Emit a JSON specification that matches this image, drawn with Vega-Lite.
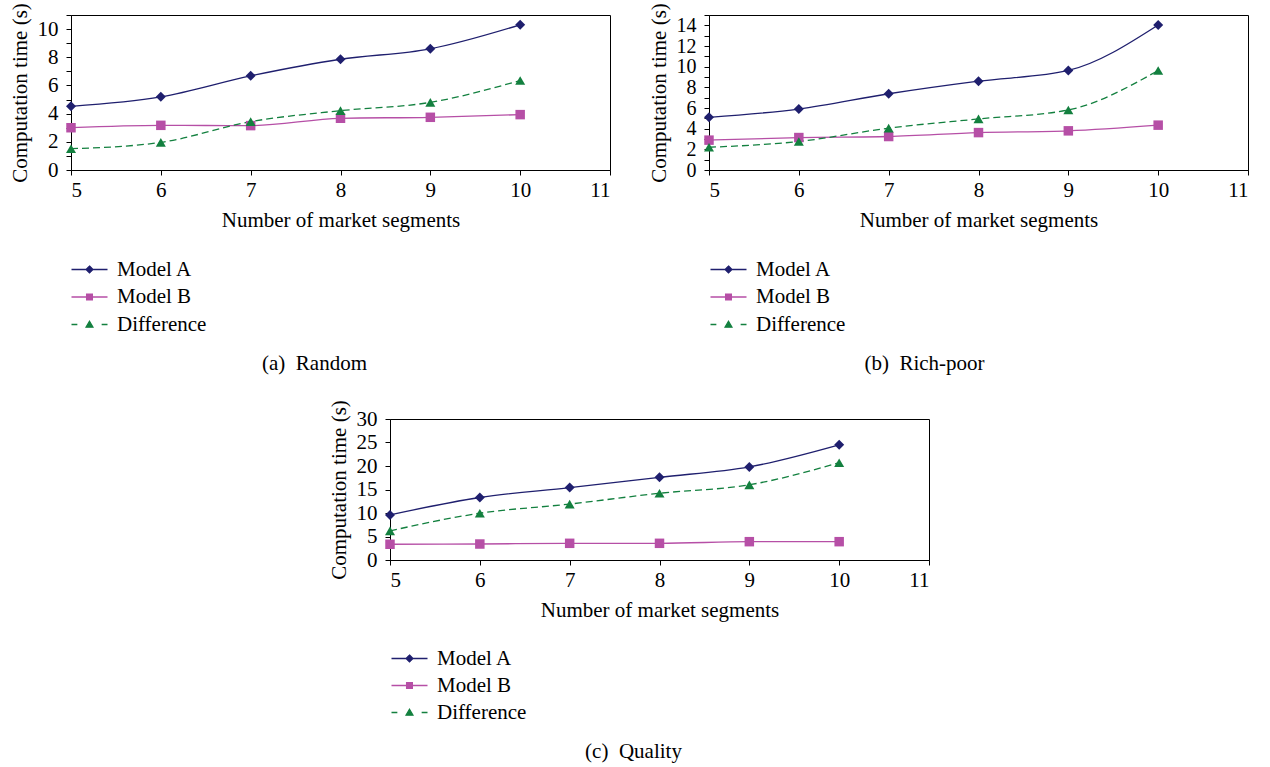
{
  "$schema": "https://vega.github.io/schema/vega-lite/v6.json",
  "padding": {"left": 8, "top": 2, "right": 5, "bottom": 5},
  "background": "white",
  "config": {
    "font": "Liberation Serif",
    "view": {"stroke": "black", "strokeWidth": 1},
    "axis": {
      "grid": false, "domainColor": "black", "tickColor": "black", "labelColor": "black", "titleColor": "black",
      "labelFont": "Liberation Serif", "titleFont": "Liberation Serif", "labelFontSize": 21, "titleFontSize": 21,
      "titleFontWeight": "normal", "tickSize": 5, "domainWidth": 1, "tickWidth": 1, "labelOverlap": false
    },
    "axisX": {"labelPadding": 4, "titlePadding": 9},
    "axisY": {"labelPadding": 8, "titlePadding": 7},
    "title": {"font": "Liberation Serif", "fontSize": 21, "fontWeight": "normal", "color": "black"},
    "legend": {"labelFont": "Liberation Serif", "labelFontSize": 21, "labelColor": "black"}
  },
  "datasets": {
    "a": [
      {"n": 5, "series": "Model A", "t": 4.52}, {"n": 6, "series": "Model A", "t": 5.19}, {"n": 7, "series": "Model A", "t": 6.68},
      {"n": 8, "series": "Model A", "t": 7.86}, {"n": 9, "series": "Model A", "t": 8.6}, {"n": 10, "series": "Model A", "t": 10.3},
      {"n": 5, "series": "Model B", "t": 3.0}, {"n": 6, "series": "Model B", "t": 3.17}, {"n": 7, "series": "Model B", "t": 3.15},
      {"n": 8, "series": "Model B", "t": 3.67}, {"n": 9, "series": "Model B", "t": 3.74}, {"n": 10, "series": "Model B", "t": 3.93},
      {"n": 5, "series": "Difference", "t": 1.51}, {"n": 6, "series": "Difference", "t": 1.96}, {"n": 7, "series": "Difference", "t": 3.43},
      {"n": 8, "series": "Difference", "t": 4.21}, {"n": 9, "series": "Difference", "t": 4.8}, {"n": 10, "series": "Difference", "t": 6.35}
    ],
    "b": [
      {"n": 5, "series": "Model A", "t": 5.1}, {"n": 6, "series": "Model A", "t": 5.9}, {"n": 7, "series": "Model A", "t": 7.38},
      {"n": 8, "series": "Model A", "t": 8.6}, {"n": 9, "series": "Model A", "t": 9.63}, {"n": 10, "series": "Model A", "t": 14.03},
      {"n": 5, "series": "Model B", "t": 2.89}, {"n": 6, "series": "Model B", "t": 3.14}, {"n": 7, "series": "Model B", "t": 3.24},
      {"n": 8, "series": "Model B", "t": 3.62}, {"n": 9, "series": "Model B", "t": 3.79}, {"n": 10, "series": "Model B", "t": 4.34},
      {"n": 5, "series": "Difference", "t": 2.2}, {"n": 6, "series": "Difference", "t": 2.76}, {"n": 7, "series": "Difference", "t": 4.05},
      {"n": 8, "series": "Difference", "t": 4.94}, {"n": 9, "series": "Difference", "t": 5.81}, {"n": 10, "series": "Difference", "t": 9.63}
    ],
    "c": [
      {"n": 5, "series": "Model A", "t": 9.6}, {"n": 6, "series": "Model A", "t": 13.3}, {"n": 7, "series": "Model A", "t": 15.4},
      {"n": 8, "series": "Model A", "t": 17.6}, {"n": 9, "series": "Model A", "t": 19.8}, {"n": 10, "series": "Model A", "t": 24.5},
      {"n": 5, "series": "Model B", "t": 3.35}, {"n": 6, "series": "Model B", "t": 3.4}, {"n": 7, "series": "Model B", "t": 3.55},
      {"n": 8, "series": "Model B", "t": 3.55}, {"n": 9, "series": "Model B", "t": 3.9}, {"n": 10, "series": "Model B", "t": 3.9},
      {"n": 5, "series": "Difference", "t": 6.2}, {"n": 6, "series": "Difference", "t": 9.95}, {"n": 7, "series": "Difference", "t": 11.9},
      {"n": 8, "series": "Difference", "t": 14.2}, {"n": 9, "series": "Difference", "t": 16.0}, {"n": 10, "series": "Difference", "t": 20.7}
    ]
  },
  "vconcat": [
    {
      "hconcat": [
        {
          "width": 539, "height": 155,
          "data": {"name": "a"},
          "title": {"text": "(a)\u00a0 Random", "orient": "bottom", "offset": 18, "dx": -26, "anchor": "middle"},
          "encoding": {
            "x": {"field": "n", "type": "quantitative", "scale": {"domain": [5, 11], "nice": false, "zero": false},
                  "axis": {"values": [5, 6, 7, 8, 9, 10, 11], "title": "Number of market segments"}},
            "color": {"field": "series", "type": "nominal",
                      "scale": {"domain": ["Model A", "Model B", "Difference"], "range": ["#1f1f6e", "#b64fa6", "#13803f"]},
                      "legend": {"orient": "none", "legendX": 8, "legendY": 244, "title": null, "padding": 0,
                                 "symbolSize": 324, "labelOffset": 17, "rowPadding": 5.5,
                                 "encode": {"symbols": {"update": {
                                   "shape": {"signal": "datum.value === 'Model A' ? 'M-2,0H2M0,-0.38L0.38,0L0,0.38L-0.38,0Z' : datum.value === 'Model B' ? 'M-2,0H2M-0.32,-0.32H0.32V0.32H-0.32Z' : 'M-2,0H-1.35M1.35,0H2M0,-0.36L0.38,0.3H-0.38Z'"},
                                   "fill": {"signal": "datum.value === 'Model A' ? '#1f1f6e' : datum.value === 'Model B' ? '#b64fa6' : '#13803f'"},
                                   "stroke": {"signal": "datum.value === 'Model A' ? '#1f1f6e' : datum.value === 'Model B' ? '#b64fa6' : '#13803f'"},
                                   "strokeWidth": {"value": 1.3}, "opacity": {"value": 1}
                                 }}}}}
          },
          "layer": [
            {"transform": [{"filter": "datum.series !== 'Difference'"}], "mark": {"type": "line", "interpolate": "monotone", "strokeWidth": 1.3},
             "encoding": {"y": {"field": "t", "type": "quantitative", "scale": {"domain": [0, 11], "nice": false},
                                "axis": {"values": [0, 2, 4, 6, 8, 10], "title": "Computation time (s)"}}}},
            {"transform": [{"filter": "datum.series === 'Difference'"}], "mark": {"type": "line", "interpolate": "monotone", "strokeWidth": 1.3, "strokeDash": [7, 4]},
             "encoding": {"y": {"field": "t", "type": "quantitative", "scale": {"domain": [0, 11], "nice": false}, "axis": null}}},
            {"transform": [{"filter": "datum.series === 'Model A'"}], "mark": {"type": "point", "shape": "diamond", "filled": true, "opacity": 1, "size": 100},
             "encoding": {"y": {"field": "t", "type": "quantitative", "scale": {"domain": [0, 11], "nice": false}, "axis": null}}},
            {"transform": [{"filter": "datum.series === 'Model B'"}], "mark": {"type": "point", "shape": "square", "filled": true, "opacity": 1, "size": 90},
             "encoding": {"y": {"field": "t", "type": "quantitative", "scale": {"domain": [0, 11], "nice": false}, "axis": null}}},
            {"transform": [{"filter": "datum.series === 'Difference'"}], "mark": {"type": "point", "shape": "triangle-up", "filled": true, "opacity": 1, "size": 100},
             "encoding": {"y": {"field": "t", "type": "quantitative", "scale": {"domain": [0, 11], "nice": false},
                                "axis": {"orient": "left", "values": [1, 3, 5, 7, 9, 11], "labels": false, "domain": false, "title": null}}}}
          ],
          "resolve": {"axis": {"y": "independent"}}
        },
        {
          "width": 539, "height": 155,
          "data": {"name": "b"},
          "title": {"text": "(b)\u00a0 Rich-poor", "orient": "bottom", "offset": 18, "dx": -54, "anchor": "middle"},
          "encoding": {
            "x": {"field": "n", "type": "quantitative", "scale": {"domain": [5, 11], "nice": false, "zero": false},
                  "axis": {"values": [5, 6, 7, 8, 9, 10, 11], "title": "Number of market segments"}},
            "color": {"field": "series", "type": "nominal",
                      "scale": {"domain": ["Model A", "Model B", "Difference"], "range": ["#1f1f6e", "#b64fa6", "#13803f"]},
                      "legend": {"orient": "none", "legendX": 9, "legendY": 244, "title": null, "padding": 0,
                                 "symbolSize": 324, "labelOffset": 17, "rowPadding": 5.5,
                                 "encode": {"symbols": {"update": {
                                   "shape": {"signal": "datum.value === 'Model A' ? 'M-2,0H2M0,-0.38L0.38,0L0,0.38L-0.38,0Z' : datum.value === 'Model B' ? 'M-2,0H2M-0.32,-0.32H0.32V0.32H-0.32Z' : 'M-2,0H-1.35M1.35,0H2M0,-0.36L0.38,0.3H-0.38Z'"},
                                   "fill": {"signal": "datum.value === 'Model A' ? '#1f1f6e' : datum.value === 'Model B' ? '#b64fa6' : '#13803f'"},
                                   "stroke": {"signal": "datum.value === 'Model A' ? '#1f1f6e' : datum.value === 'Model B' ? '#b64fa6' : '#13803f'"},
                                   "strokeWidth": {"value": 1.3}, "opacity": {"value": 1}
                                 }}}}}
          },
          "layer": [
            {"transform": [{"filter": "datum.series !== 'Difference'"}], "mark": {"type": "line", "interpolate": "monotone", "strokeWidth": 1.3},
             "encoding": {"y": {"field": "t", "type": "quantitative", "scale": {"domain": [0, 15], "nice": false},
                                "axis": {"values": [0, 2, 4, 6, 8, 10, 12, 14], "labelFontSize": 20, "title": "Computation time (s)"}}}},
            {"transform": [{"filter": "datum.series === 'Difference'"}], "mark": {"type": "line", "interpolate": "monotone", "strokeWidth": 1.3, "strokeDash": [7, 4]},
             "encoding": {"y": {"field": "t", "type": "quantitative", "scale": {"domain": [0, 15], "nice": false}, "axis": null}}},
            {"transform": [{"filter": "datum.series === 'Model A'"}], "mark": {"type": "point", "shape": "diamond", "filled": true, "opacity": 1, "size": 100},
             "encoding": {"y": {"field": "t", "type": "quantitative", "scale": {"domain": [0, 15], "nice": false}, "axis": null}}},
            {"transform": [{"filter": "datum.series === 'Model B'"}], "mark": {"type": "point", "shape": "square", "filled": true, "opacity": 1, "size": 90},
             "encoding": {"y": {"field": "t", "type": "quantitative", "scale": {"domain": [0, 15], "nice": false}, "axis": null}}},
            {"transform": [{"filter": "datum.series === 'Difference'"}], "mark": {"type": "point", "shape": "triangle-up", "filled": true, "opacity": 1, "size": 100},
             "encoding": {"y": {"field": "t", "type": "quantitative", "scale": {"domain": [0, 15], "nice": false},
                                "axis": {"orient": "left", "values": [1, 3, 5, 7, 9, 11, 13, 15], "labels": false, "domain": false, "title": null}}}}
          ],
          "resolve": {"axis": {"y": "independent"}}
        }
      ],
      "spacing": 36,
      "resolve": {"scale": {"color": "independent"}}
    },
    {
      "width": 539, "height": 141,
      "data": {"name": "c"},
      "title": {"text": "(c)\u00a0 Quality", "orient": "bottom", "offset": 18, "dx": -26, "anchor": "middle"},
      "encoding": {
        "x": {"field": "n", "type": "quantitative", "scale": {"domain": [5, 11], "nice": false, "zero": false},
              "axis": {"values": [5, 6, 7, 8, 9, 10, 11], "title": "Number of market segments"}},
        "y": {"field": "t", "type": "quantitative", "scale": {"domain": [0, 30], "nice": false},
              "axis": {"values": [0, 5, 10, 15, 20, 25, 30], "title": "Computation time (s)"}},
        "color": {"field": "series", "type": "nominal",
                  "scale": {"domain": ["Model A", "Model B", "Difference"], "range": ["#1f1f6e", "#b64fa6", "#13803f"]},
                  "legend": {"orient": "none", "legendX": 9, "legendY": 229, "title": null, "padding": 0,
                             "symbolSize": 324, "labelOffset": 17, "rowPadding": 5,
                             "encode": {"symbols": {"update": {
                               "shape": {"signal": "datum.value === 'Model A' ? 'M-2,0H2M0,-0.38L0.38,0L0,0.38L-0.38,0Z' : datum.value === 'Model B' ? 'M-2,0H2M-0.32,-0.32H0.32V0.32H-0.32Z' : 'M-2,0H-1.35M1.35,0H2M0,-0.36L0.38,0.3H-0.38Z'"},
                               "fill": {"signal": "datum.value === 'Model A' ? '#1f1f6e' : datum.value === 'Model B' ? '#b64fa6' : '#13803f'"},
                               "stroke": {"signal": "datum.value === 'Model A' ? '#1f1f6e' : datum.value === 'Model B' ? '#b64fa6' : '#13803f'"},
                               "strokeWidth": {"value": 1.3}, "opacity": {"value": 1}
                             }}}}}
      },
      "layer": [
        {"transform": [{"filter": "datum.series !== 'Difference'"}], "mark": {"type": "line", "interpolate": "monotone", "strokeWidth": 1.3}},
        {"transform": [{"filter": "datum.series === 'Difference'"}], "mark": {"type": "line", "interpolate": "monotone", "strokeWidth": 1.3, "strokeDash": [7, 4]}},
        {"transform": [{"filter": "datum.series === 'Model A'"}], "mark": {"type": "point", "shape": "diamond", "filled": true, "opacity": 1, "size": 100}},
        {"transform": [{"filter": "datum.series === 'Model B'"}], "mark": {"type": "point", "shape": "square", "filled": true, "opacity": 1, "size": 90}},
        {"transform": [{"filter": "datum.series === 'Difference'"}], "mark": {"type": "point", "shape": "triangle-up", "filled": true, "opacity": 1, "size": 100}}
      ]
    }
  ],
  "spacing": 24,
  "center": true,
  "resolve": {"scale": {"color": "independent"}}
}
